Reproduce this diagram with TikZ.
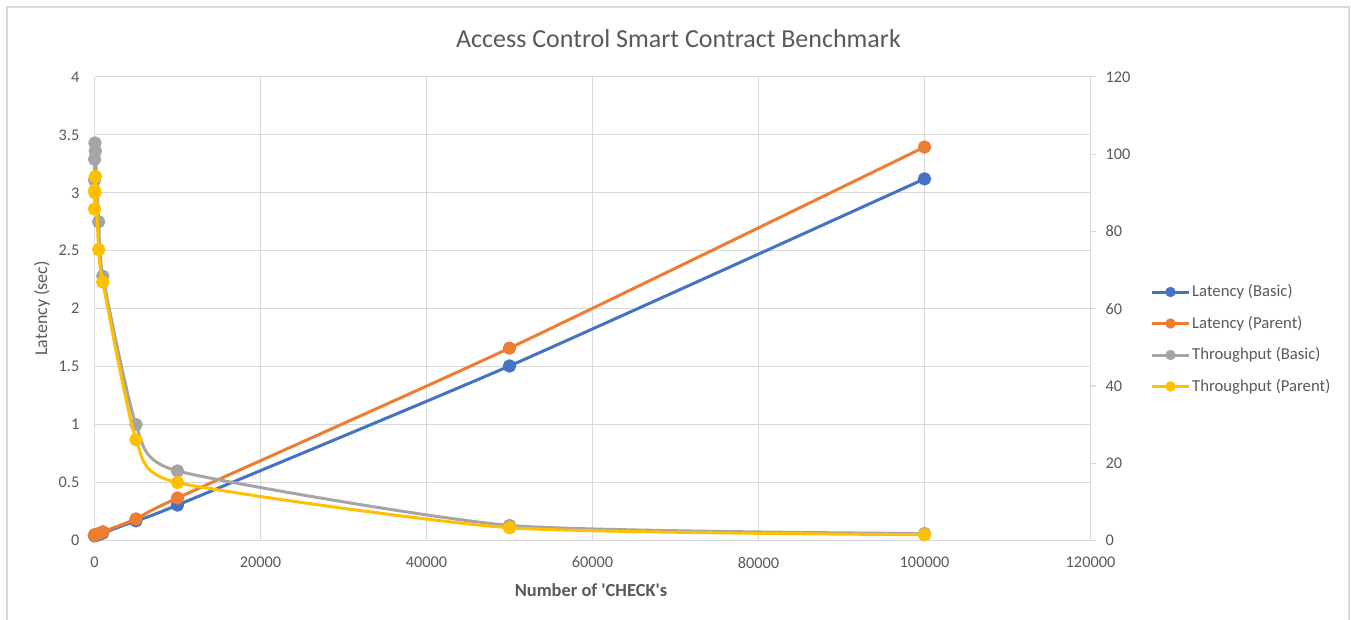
\documentclass[tikz,border=0pt]{standalone}
\usepackage{fontspec}
\setmainfont{Carlito}[Ligatures=TeXOff]
\definecolor{cBlue}{HTML}{4472C4}
\definecolor{cOrange}{HTML}{ED7D31}
\definecolor{cGray}{HTML}{A5A5A5}
\definecolor{cGold}{HTML}{FFC000}
\definecolor{cGrid}{HTML}{D9D9D9}
\definecolor{cText}{HTML}{595959}
\begin{document}
\begin{tikzpicture}[x=1pt,y=-1pt,
  gridline/.style={draw=cGrid, line width=1.2pt},
  ticklbl/.style={text=cText, font=\fontsize{16.3}{19.5}\selectfont, inner sep=0pt},
  legendlbl/.style={text=cText, font=\fontsize{16.7}{19.5}\selectfont, inner sep=0pt},
  serie/.style={line width=3pt, line join=round, line cap=round}]
\useasboundingbox (0,0) rectangle (1351,620);
\fill[white] (0,0) rectangle (1351,620);
\draw[cGrid, line width=1.3pt] (7,660) -- (7,7) -- (1349,7) -- (1349,660);
\node[text=cText, font=\fontsize{26}{30}\selectfont, inner sep=0pt] (title) at (678.5,39) {Access Control Smart Contract Benchmark};
% grid
\foreach \i in {1,...,8} \draw[gridline] (94.5,{540.5-57.95*\i}) -- (1090.5,{540.5-57.95*\i});
\foreach \k in {1,...,5} \draw[gridline] ({94.5+166*\k},540.5) -- ({94.5+166*\k},76.9);
\draw[gridline] (94.5,76.9) -- (94.5,540.5) -- (1090.5,540.5) -- (1090.5,76.9);
\foreach \j in {0,...,6} \draw[gridline] (1090.5,{540.5-77.267*\j}) -- (1096,{540.5-77.267*\j});
% left labels
\foreach \i/\t in {0/0,1/0.5,2/1,3/1.5,4/2,5/2.5,6/3,7/3.5,8/4}
  \node[ticklbl, anchor=east] (yl\i) at (79.5,{540.5-57.95*\i}) {\t};
% right labels
\foreach \j/\t in {0/0,1/20,2/40,3/60,4/80,5/100,6/120}
  \node[ticklbl, anchor=west] (yr\j) at (1105.5,{540.5-77.267*\j}) {\t};
% x labels
\foreach \k/\t in {0/0,1/20000,2/40000,3/60000,4/80000,5/100000,6/120000}
  \node[ticklbl] (xl\k) at ({94.5+166*\k},562.5) {\t};
\node[text=cText, font=\bfseries\fontsize{18.4}{22}\selectfont, inner sep=0pt] (xtitle) at (591,590) {Number of 'CHECK's};
\node[text=cText, font=\fontsize{17.9}{21}\selectfont, inner sep=0pt, rotate=90] (ytitle) at (42,308.5) {Latency (sec)};
% data
\begin{scope}[shift={(94.5,540.5)}, x=8.3pt, y=115.9pt]
\draw[serie, cBlue] plot[smooth, tension=0.35, mark=*, mark size=5.2pt, mark options={fill=cBlue, draw=cBlue}] coordinates {(0.001,0.04) (0.01,0.042) (0.05,0.044) (0.1,0.045) (0.5,0.05) (1,0.065) (5,0.17) (10,0.306) (50,1.506) (100,3.12)};
\draw[serie, cOrange] plot[smooth, tension=0.35, mark=*, mark size=5.2pt, mark options={fill=cOrange, draw=cOrange}] coordinates {(0.001,0.045) (0.01,0.047) (0.05,0.05) (0.1,0.052) (0.5,0.06) (1,0.075) (5,0.186) (10,0.367) (50,1.66) (100,3.395)};
\draw[serie, cGray] plot[smooth, tension=0.35, mark=*, mark size=5.2pt, mark options={fill=cGray, draw=cGray}] coordinates {(0.001,3.11) (0.01,3.29) (0.05,3.43) (0.1,3.36) (0.5,2.75) (1,2.28) (5,1.0) (10,0.6) (50,0.13) (100,0.06)};
\draw[serie, cGold] plot[smooth, tension=0.35, mark=*, mark size=5.2pt, mark options={fill=cGold, draw=cGold}] coordinates {(0.001,2.86) (0.01,3.02) (0.05,3.0) (0.1,3.14) (0.5,2.51) (1,2.23) (5,0.87) (10,0.5) (50,0.11) (100,0.05)};
\end{scope}
% legend
\foreach \n/\c/\t [count=\r from 0] in {lb/cBlue/Latency (Basic),lp/cOrange/Latency (Parent),tb/cGray/Throughput (Basic),tp/cGold/Throughput (Parent)} {
  \coordinate (\n a) at (1152,{292+31.5*\r});
  \coordinate (\n b) at (1189,{292+31.5*\r});
  \draw[serie, \c, line cap=butt] (\n a) -- (\n b);
  \fill[\c] (1170.5,{292+31.5*\r}) circle (5.2);
  \node[legendlbl, anchor=west] (\n t) at (1192,{292+31.5*\r}) {\t};
}
\end{tikzpicture}
\end{document}
